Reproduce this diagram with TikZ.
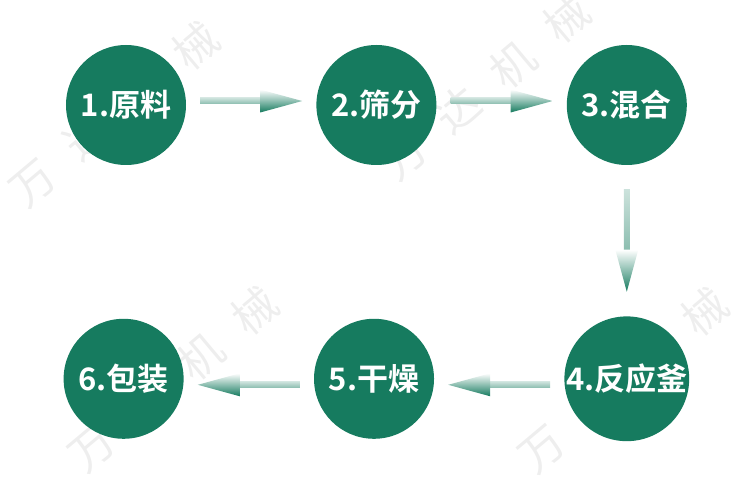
\documentclass[tikz,border=0pt]{standalone}
\usepackage{fontspec}
\setmainfont{Noto Sans CJK SC}[BoldFont={Noto Sans CJK SC Bold}]
\usetikzlibrary{positioning}

\definecolor{flowgreen}{HTML}{167B5F}
\definecolor{markgray}{HTML}{EEEEEE}

\tikzset{
  stepcircle/.style={circle, fill=flowgreen, minimum size=120pt, inner sep=0pt,
    text=white, font=\fontsize{31pt}{31pt}\selectfont\bfseries},
  watermark/.style={text=markgray, rotate=40, font=\fontsize{44pt}{44pt}\selectfont},
  flowarrow/.pic={
    \shade[top color=flowgreen!22, bottom color=flowgreen!50] (-51,-3) rectangle (10,3);
    \shade[top color=white, bottom color=flowgreen] (9,11.5) -- (51,0) -- (9,-11.5) -- cycle;
  }
}

\begin{document}
\begin{tikzpicture}[x=1pt, y=1pt, node distance=130pt]
  \useasboundingbox (-126,105) rectangle (624,-395);
  % watermark
  \foreach \i/\p in {1/{(-12,-9)}, 2/{(359,18)}, 3/{(47,-274)}, 4/{(497,-275)}}
    \node[watermark] (wm\i) at \p {万\hspace{27pt}达\hspace{27pt}机\hspace{27pt}械};
  % steps
  \node[stepcircle] (yuanliao) at (0,0) {1.原料};
  \node[stepcircle, right=of yuanliao] (shaifen) {2.筛分};
  \node[stepcircle, right=of shaifen] (hunhe) {3.混合};
  \node[stepcircle, below=151pt of hunhe] (fanying) {4.反应釜};
  \node[stepcircle, left=of fanying] (ganzao) {5.干燥};
  \node[stepcircle, left=of ganzao] (baozhuang) {6.包装};
  % arrows
  \path (yuanliao) -- (shaifen) pic[pos=0.5, yshift=4pt] {flowarrow};
  \path (shaifen) -- (hunhe) pic[pos=0.5, yshift=4pt] {flowarrow};
  \path (hunhe) -- (fanying) pic[pos=0.5, rotate=-90] {flowarrow};
  \path (fanying) -- (ganzao) pic[pos=0.5, yshift=-6pt, xscale=-1] {flowarrow};
  \path (ganzao) -- (baozhuang) pic[pos=0.5, yshift=-6pt, xscale=-1] {flowarrow};
\end{tikzpicture}
\end{document}
